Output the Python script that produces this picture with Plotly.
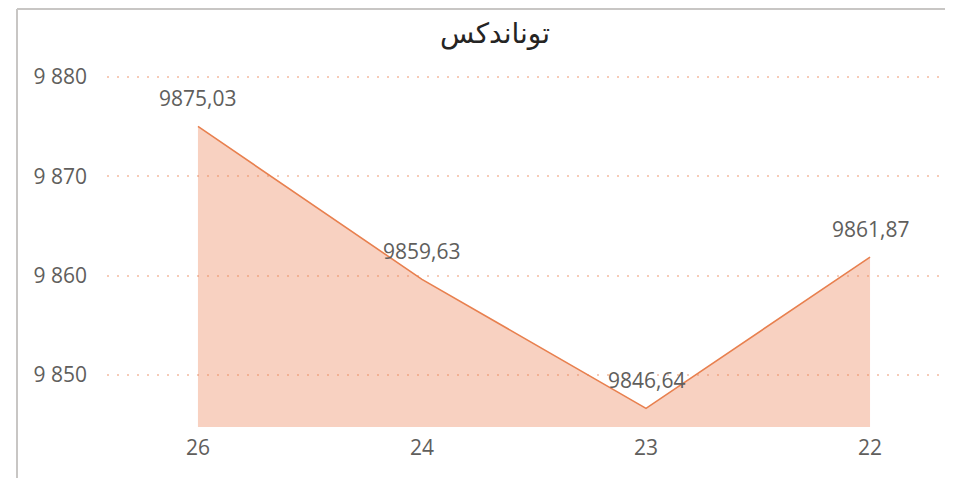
import plotly.graph_objects as go

categories = ["26", "24", "23", "22"]
values = [9875.03, 9859.63, 9846.64, 9861.87]
y_ticks = [9850, 9860, 9870, 9880]
title_text = "توناندکس"

W, H = 953, 478
ml, mr, mt, mb = 99, 13, 52, 59
PW, PH = W - ml - mr, H - mt - mb
FONT = "Open Sans, Noto Sans, sans-serif"
GRAY = "#605E5C"

fig = go.Figure()
fig.add_trace(go.Scatter(
    x=categories, y=values, mode="lines",
    line=dict(color="#E8804F", width=1.6),
    fill="tozeroy", fillcolor="rgba(236,128,82,0.36)",
    hoverinfo="skip", showlegend=False,
))

for i, v in enumerate(values):
    fig.add_annotation(
        x=i, y=v, xref="x", yref="y",
        text=f"{v:.2f}".replace(".", ","), showarrow=False,
        yshift=28, font=dict(family=FONT, size=21, color=GRAY),
    )

bx = (9 - ml) / PW
by = 1 + (mt - 1) / PH
fig.update_layout(
    width=W, height=H,
    margin=dict(l=ml, r=mr, t=mt, b=mb),
    paper_bgcolor="white", plot_bgcolor="white",
    separators=", ",
    title=dict(
        text=title_text, x=487 / W, xanchor="center", xref="container",
        y=1 - 25 / H, yanchor="middle", yref="container",
        font=dict(family="DejaVu Sans, Noto Sans, sans-serif", size=28, color="#252423"),
    ),
    xaxis=dict(
        type="category", range=[-0.406, 3.348], showgrid=False, zeroline=False,
        showline=False, ticks="", ticklabelstandoff=6,
        tickfont=dict(family=FONT, size=21, color=GRAY),
    ),
    yaxis=dict(
        range=[9844.76, 9844.76 + PH / 9.93], tickvals=y_ticks, tickformat=",d",
        showgrid=True, gridcolor="#F6CBB8", griddash="2px,8px", gridwidth=2,
        zeroline=False, showline=False, ticks="", ticklabelstandoff=19,
        tickfont=dict(family=FONT, size=21, color=GRAY),
    ),
    shapes=[
        dict(type="line", xref="paper", yref="paper",
             x0=bx, x1=bx, y0=-mb / PH, y1=by,
             line=dict(color="#C8C6C4", width=2)),
        dict(type="line", xref="paper", yref="paper",
             x0=bx, x1=1 + mr / PW, y0=by, y1=by,
             line=dict(color="#C8C6C4", width=2)),
    ],
)

fig.write_html("out.html")
